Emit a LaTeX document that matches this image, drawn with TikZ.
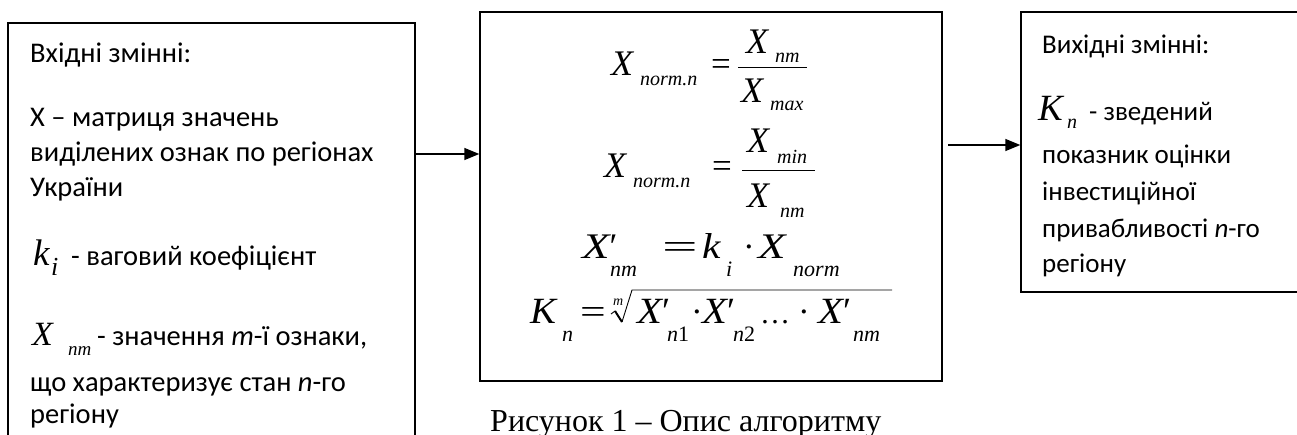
\documentclass[tikz,border=0pt]{standalone}
\usepackage{fontspec}
\usepackage{graphicx}
\setmainfont{Carlito}
\newfontfamily\tms{Liberation Serif}
\usetikzlibrary{arrows.meta}
\tikzset{
  box/.style={draw, line width=1.4pt, inner sep=0pt, rectangle},
  txt/.style={anchor=base west, inner sep=0pt, font=\fontsize{28.5}{32}\selectfont},
  rtxt/.style={anchor=base west, inner sep=0pt, font=\fontsize{27}{32}\selectfont},
  mv/.style={anchor=base west, inner sep=0pt, font=\fontsize{36}{40}\selectfont\tms\itshape},
  mvb/.style={anchor=base west, inner sep=0pt, font=\fontsize{37}{40}\selectfont\tms\itshape},
  ms/.style={anchor=base west, inner sep=0pt, font=\fontsize{20}{24}\selectfont\tms\itshape},
  msb/.style={anchor=base west, inner sep=0pt, font=\fontsize{22}{24}\selectfont\tms\itshape},
  mr/.style={anchor=base west, inner sep=0pt, font=\fontsize{35}{40}\selectfont\tms},
  arr/.style={line width=1.4pt, -{Triangle[length=15pt,width=12pt]}},
  fbar/.style={line width=1pt},
  rad/.style={line width=0.9pt},
  capt/.style={anchor=base west, inner sep=0pt, font=\fontsize{32}{38}\selectfont\tms},
}
\newcommand\wx[2]{\scalebox{#1}[1]{#2}}
\begin{document}
\begin{tikzpicture}[x=1pt,y=-1pt]
\useasboundingbox (0,0) rectangle (1297,434);
\clip (0,0) rectangle (1297,434);
% boxes
\node[box, minimum width=407pt, minimum height=440pt] (inbox) at (211.5,243) {};
\node[box, minimum width=462pt, minimum height=369pt] (midbox) at (711,196.5) {};
\node[box, minimum width=285pt, minimum height=280pt] (outbox) at (1163.5,152) {};
% connectors
\coordinate (y1) at (0,154);
\draw[arr] (inbox.east |- y1) -- (midbox.west |- y1);
\coordinate (a2) at (948,145);
\draw[arr] (a2) -- (outbox.west |- a2);
% left box text
\node[txt] (l1) at (30,62) {Вхідні змінні:};
\node[txt] (l2) at (30,126) {X – матриця значень};
\node[txt] (l3) at (30,161) {виділених ознак по регіонах};
\node[txt] (l4) at (30,196) {України};
\node[mvb] (lk) at (33,265) {k};
\node[anchor=base west, inner sep=0pt, font=\fontsize{26}{30}\selectfont\tms\itshape] (li) at (51,275) {i};
\node[txt] (l5) at (71,265) {- ваговий коефіцієнт};
\node[anchor=base west, inner sep=0pt, font=\fontsize{34}{36}\selectfont\tms\itshape] (lx) at (32,345) {X};
\node[anchor=base west, inner sep=0pt, font=\fontsize{19}{20}\selectfont\tms\itshape] (lxs) at (68,355) {nm};
\node[txt] (l6) at (97,345) {- значення \textit{m}-ї ознаки,};
\node[txt] (l7) at (30,391) {що характеризує стан \textit{n}-го};
\node[txt] (l8) at (30,423) {регіону};
% right box text
\node[rtxt] (r1) at (1042,53) {Вихідні змінні:};
\node[mvb] (rk) at (1038,120) {K};
\node[ms] (rks) at (1067,128) {n};
\node[rtxt] (r2) at (1089,120) {- зведений};
\node[rtxt] (r3) at (1042,163) {показник оцінки};
\node[rtxt] (r4) at (1042,200) {інвестиційної};
\node[rtxt] (r5) at (1042,237) {привабливості \textit{n}-го};
\node[rtxt] (r6) at (1042,272) {регіону};
% formula 1
\node[mv] (f1x) at (611,75) {X};
\node[ms] (f1s) at (640,85) {norm.n};
\node[mr] (f1e) at (711,75) {=};
\draw[fbar] (738,67) -- (807,67);
\node[mv] (f1nx) at (746,53) {X};
\node[ms] (f1ns) at (775,62) {nm};
\node[mv] (f1dx) at (741,102) {X};
\node[ms] (f1ds) at (770,110) {max};
% formula 2
\node[mv] (f2x) at (604,177) {X};
\node[ms] (f2s) at (633,187) {norm.n};
\node[mr] (f2e) at (712,177) {=};
\draw[fbar] (742,170) -- (815,170);
\node[mv] (f2nx) at (747,152) {X};
\node[ms] (f2ns) at (777,163) {min};
\node[mv] (f2dx) at (747,207) {X};
\node[ms] (f2ds) at (780,217) {nm};
% formula 3
\node[mv] (f3x) at (582,258) {\wx{1.25}{X}{\upshape′}};
\node[msb] (f3s) at (610,276) {nm};
\node[mr] (f3e) at (662,258) {\wx{1.8}{=}};
\node[mv] (f3k) at (702,258) {\wx{1.15}{k}};
\node[msb] (f3ks) at (726,276) {i};
\node[mr] (f3d) at (743,258) {·};
\node[mv] (f3x2) at (758,258) {\wx{1.25}{X}};
\node[msb] (f3x2s) at (793,276) {norm};
% formula 4
\node[mvb] (f4k) at (530,323) {\wx{1.05}{K}};
\node[msb] (f4ks) at (562,341) {n};
\node[mr] (f4e) at (580,323) {\wx{1.3}{=}};
\node[anchor=base west, inner sep=0pt, font=\fontsize{14}{16}\selectfont\tms\itshape] (f4m) at (613,305) {m};
\draw[rad] (611,314) -- (615,311);
\draw[line width=2pt] (615,311) -- (622,322);
\draw[rad] (622,322) -- (632,290) -- (892,290);
\node[mvb] (f4a) at (637,323) {\wx{1.1}{X}{\upshape′}};
\node[msb] (f4as) at (667,341) {n\upshape 1};
\node[mr] (f4d1) at (691,323) {·};
\node[mvb] (f4b) at (702,323) {\wx{1.1}{X}{\upshape′}};
\node[msb] (f4bs) at (733,341) {n\upshape 2};
\node[anchor=base west, inner sep=0pt, font=\fontsize{30}{32}\selectfont\tms] (f4dots) at (760,323) {…};
\node[mr] (f4d2) at (798,323) {·};
\node[mvb] (f4c) at (818,323) {\wx{1.1}{X}{\upshape′}};
\node[msb] (f4cs) at (853,341) {nm};
% caption
\node[capt] (cap) at (490,431) {Рисунок 1 – Опис алгоритму};
\end{tikzpicture}
\end{document}
